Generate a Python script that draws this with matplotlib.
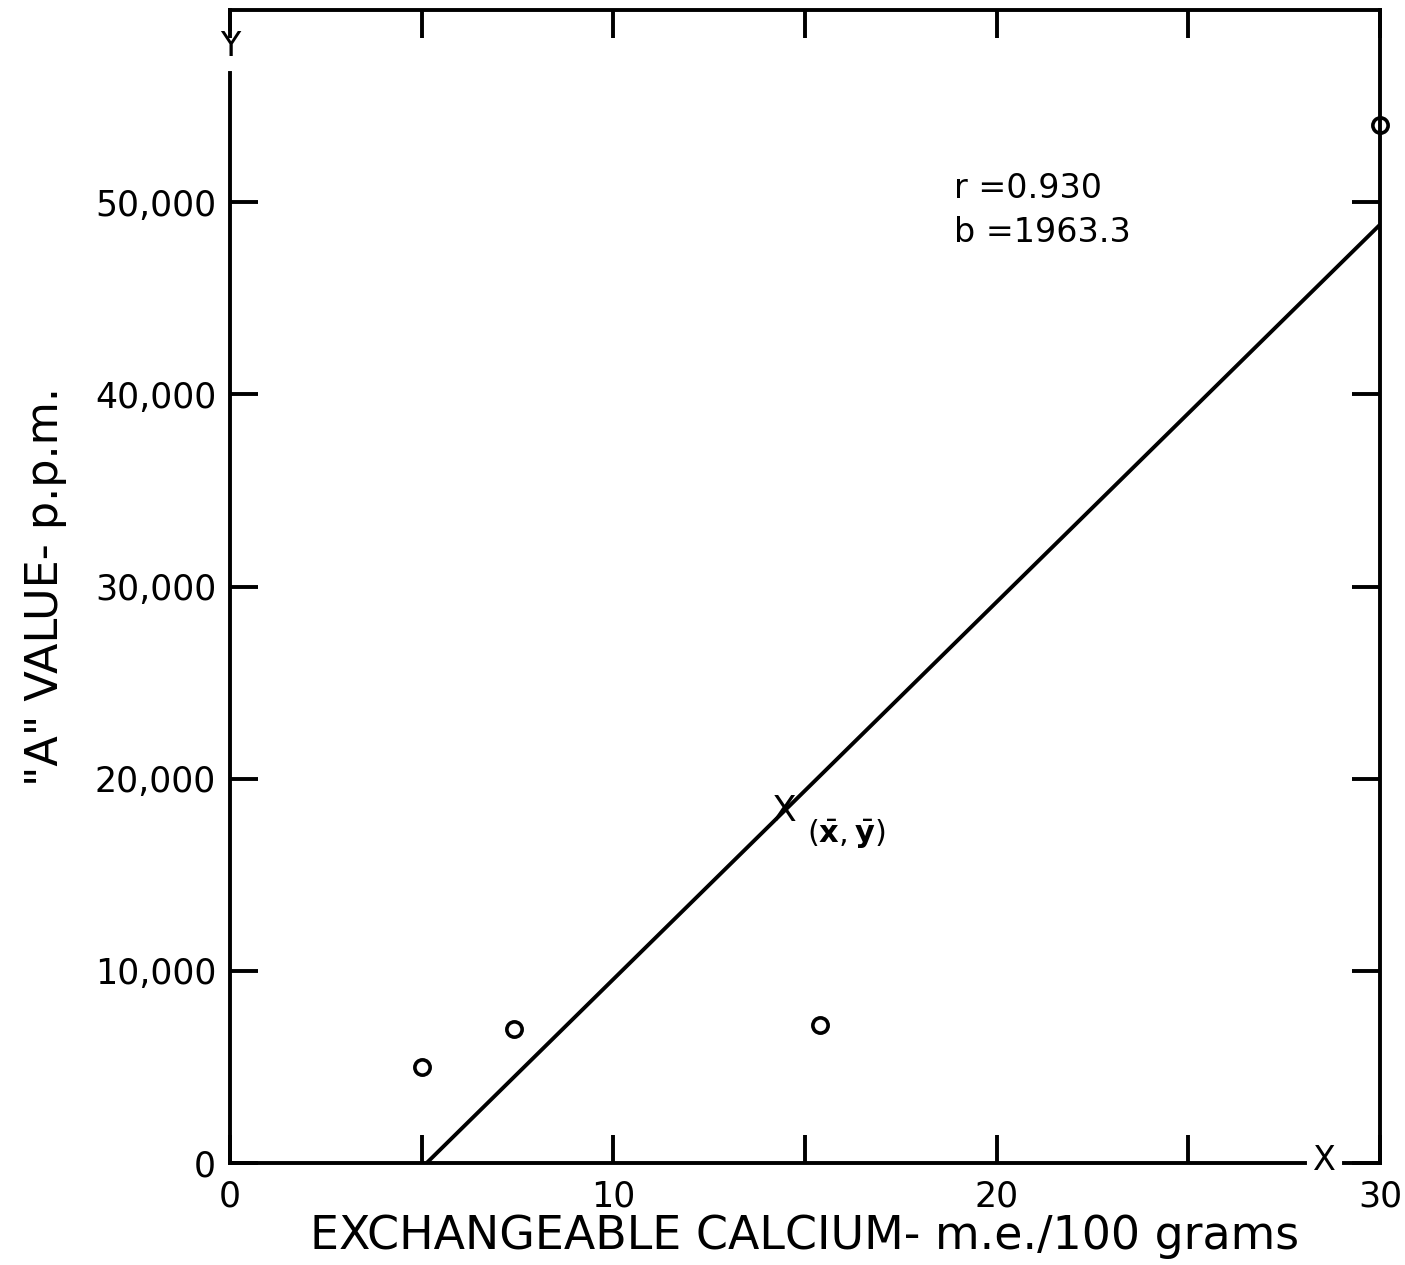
import numpy as np
import matplotlib
matplotlib.use("Agg")
from matplotlib import pyplot as plt

# data
ca = [5.0, 7.4, 15.4, 30.0]            # exchangeable calcium, m.e./100 g
a_val = [5000, 7000, 7200, 54000]      # "A" value, p.p.m.
r_txt = 0.930
b = 1963.3
xticks = [0, 5, 10, 15, 20, 25, 30]
xticklabels = ['0', '', '10', '', '20', '', '30']
yticks = [0, 10000, 20000, 30000, 40000, 50000]
yticklabels = ['0', '10,000', '20,000', '30,000', '40,000', '50,000']

plt.rcParams['font.family'] = ['DejaVu Sans']
fig = plt.figure(figsize=(14.05, 12.65), dpi=100)
ax = fig.add_axes([0.1637, 0.0806, 0.8185, 0.9115])
lw = 2.8

ax.set_xlim(0, 30)
ax.set_ylim(0, 60000)

# regression line through the means with slope b
xm = np.mean(ca)
ym = np.mean(a_val)
x0 = xm - ym/b
xl = np.array([x0, 30])
ax.plot(xl, ym + b*(xl-xm), color='black', lw=lw, solid_capstyle='butt')

ax.plot(ca, a_val, 'o', ms=11, mfc='none', mec='black', mew=2.6, clip_on=False)

ax.text(xm, ym, 'X', fontsize=26, ha='center', va='center')
ax.text(xm+0.6, ym-1200, r'$(\bar{\mathbf{x}},\bar{\mathbf{y}})$', fontsize=22,
        ha='left', va='center')

ax.text(18.9, 50700, 'r =%.3f' % r_txt, fontsize=24, ha='left', va='center')
ax.text(18.9, 48400, 'b =%.1f' % b, fontsize=24, ha='left', va='center')

# spines with gaps for the axis letters
for s in ax.spines.values():
    s.set_linewidth(lw)
ax.spines['left'].set_bounds(0, 56700)
ax.spines['bottom'].set_bounds(0, 28.05)
ax.plot([0, 0], [59000, 60000], color='black', lw=lw, clip_on=False)
ax.plot([29.05, 30], [0, 0], color='black', lw=lw, clip_on=False)
ax.text(0, 58100, 'Y', fontsize=24, ha='center', va='center')
ax.text(28.55, 150, 'X', fontsize=24, ha='center', va='center')

ax.set_xticks(xticks)
ax.set_xticklabels(xticklabels)
ax.set_yticks(yticks)
ax.set_yticklabels(yticklabels)
ax.tick_params(direction='in', length=20, width=lw, top=True, right=True,
               labelsize=25)
ax.tick_params(axis='x', pad=12)
ax.tick_params(axis='y', pad=10)

ax.set_xlabel('EXCHANGEABLE CALCIUM- m.e./100 grams', fontsize=33, labelpad=0)
ax.set_ylabel('"A" VALUE- p.p.m.', fontsize=32, labelpad=20)

fig.savefig('out.png', dpi=100)
